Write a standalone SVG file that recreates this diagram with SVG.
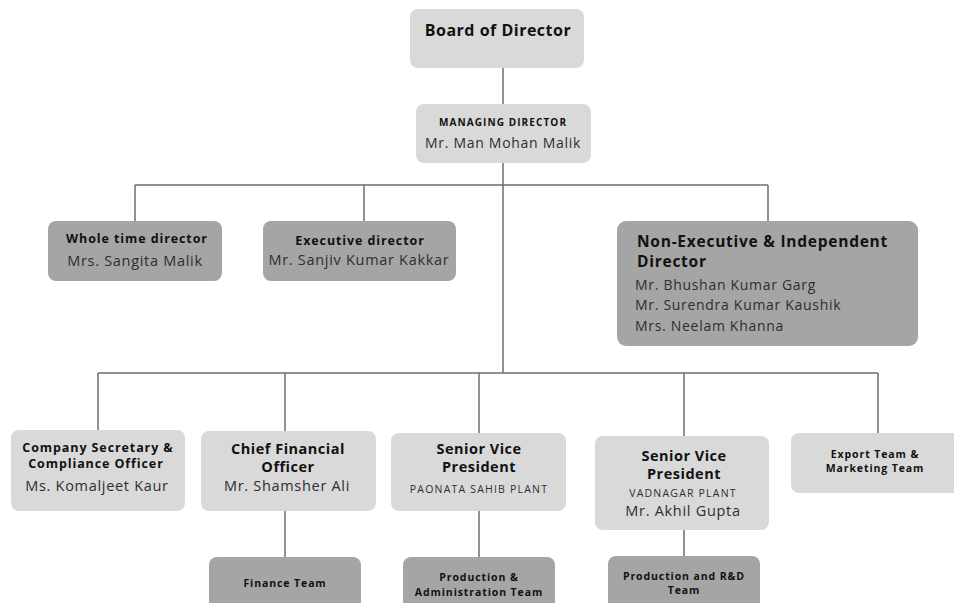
<svg xmlns="http://www.w3.org/2000/svg" width="954" height="603" viewBox="0 0 954 603">
<style>
.lt{fill:#d9d9d9}
.dk{fill:#a5a5a5}
.ln{stroke:#6e6e6e;stroke-width:1.5;fill:none}
text{font-family:"Open Sans","Liberation Sans",sans-serif;text-anchor:middle}
.b{font-weight:700;fill:#111}
.n{fill:#2e2e2e;letter-spacing:0.7px}
.s{font-weight:700;fill:#111;letter-spacing:0.9px}
.c{fill:#2e2e2e;letter-spacing:1.2px}
.h{font-weight:700;fill:#111;letter-spacing:0.5px}
</style>
<rect width="954" height="603" fill="#ffffff"/>
<g id="connectors" class="ln">
<path d="M503 68V104M503 163V373M135 185H768M135 185V221M364 185V221M768 185V221"/>
<path d="M98 373H878M98 373V430M285 373V431M479 373V433M684 373V436M878 373V433"/>
<path d="M285 511V557M479 511V557M684 530V556"/>
</g>
<g id="board"><rect class="lt" x="410" y="9" width="174" height="59" rx="8"/><text class="h" x="498" y="36" font-size="16">Board of Director</text></g>
<g id="md"><rect class="lt" x="416" y="104" width="175" height="59" rx="8"/><text class="s" x="503" y="126" font-size="10" style="letter-spacing:1.1px">MANAGING DIRECTOR</text><text class="n" x="503" y="148" font-size="14">Mr. Man Mohan Malik</text></g>
<g id="wtd"><rect class="dk" x="48" y="221" width="174" height="60" rx="8"/><text class="s" x="137" y="243" font-size="12.5">Whole time director</text><text class="n" x="135" y="266" font-size="14.5">Mrs. Sangita Malik</text></g>
<g id="ed"><rect class="dk" x="263" y="221" width="193" height="60" rx="8"/><text class="s" x="360" y="245" font-size="12.5">Executive director</text><text class="n" x="359" y="265" font-size="14.5">Mr. Sanjiv Kumar Kakkar</text></g>
<g id="ned"><rect class="dk" x="617" y="221" width="301" height="125" rx="9"/><text class="b" x="637" y="247" font-size="15.5" style="text-anchor:start;letter-spacing:0.75px">Non-Executive &amp; Independent</text><text class="b" x="637" y="267" font-size="15.5" style="text-anchor:start;letter-spacing:0.75px">Director</text><text class="n" x="635" y="290" font-size="14" style="text-anchor:start">Mr. Bhushan Kumar Garg</text><text class="n" x="635" y="310" font-size="14" style="text-anchor:start">Mr. Surendra Kumar Kaushik</text><text class="n" x="635" y="331" font-size="14" style="text-anchor:start">Mrs. Neelam Khanna</text></g>
<g id="cs"><rect class="lt" x="11" y="430" width="174" height="81" rx="8"/><text class="s" x="98" y="452" font-size="12.5">Company Secretary &amp;</text><text class="s" x="96" y="468" font-size="12.5">Compliance Officer</text><text class="n" x="97" y="491" font-size="14.5">Ms. Komaljeet Kaur</text></g>
<g id="cfo"><rect class="lt" x="201" y="431" width="175" height="80" rx="8"/><text class="h" x="288" y="454" font-size="14.5">Chief Financial</text><text class="h" x="288" y="472" font-size="14.5">Officer</text><text class="n" x="287" y="491" font-size="14.5">Mr. Shamsher Ali</text></g>
<g id="svp1"><rect class="lt" x="391" y="433" width="175" height="78" rx="8"/><text class="h" x="479" y="454" font-size="14.5">Senior Vice</text><text class="h" x="479" y="472" font-size="14.5">President</text><text class="c" x="479" y="493" font-size="10.5">PAONATA SAHIB PLANT</text></g>
<g id="svp2"><rect class="lt" x="595" y="436" width="174" height="94" rx="8"/><text class="h" x="684" y="461" font-size="14.5">Senior Vice</text><text class="h" x="684" y="479" font-size="14.5">President</text><text class="c" x="683" y="497" font-size="10.5">VADNAGAR PLANT</text><text class="n" x="683" y="516" font-size="14.5">Mr. Akhil Gupta</text></g>
<g id="export"><rect class="lt" x="791" y="433" width="175" height="60" rx="8"/><text class="s" x="875" y="458" font-size="10.5">Export Team &amp;</text><text class="s" x="875" y="472" font-size="10.5">Marketing Team</text></g>
<g id="fin"><rect class="dk" x="209" y="557" width="152" height="56" rx="8"/><text class="s" x="285" y="587" font-size="10.5">Finance Team</text></g>
<g id="pat"><rect class="dk" x="403" y="557" width="152" height="56" rx="8"/><text class="s" x="479" y="581" font-size="10.5">Production &amp;</text><text class="s" x="479" y="596" font-size="10.5">Administration Team</text></g>
<g id="prd"><rect class="dk" x="608" y="556" width="152" height="57" rx="8"/><text class="s" x="684" y="580" font-size="10.5">Production and R&amp;D</text><text class="s" x="684" y="594" font-size="10.5">Team</text></g>
</svg>
